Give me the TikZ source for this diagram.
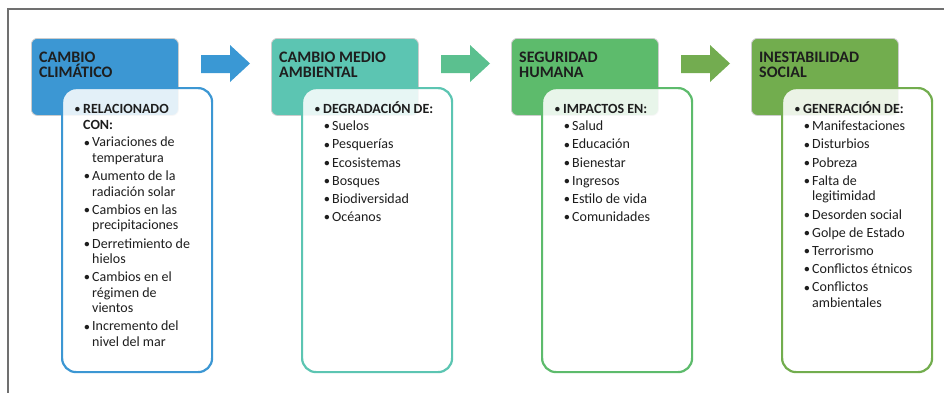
\documentclass[tikz,border=0pt]{standalone}
\usepackage{fontspec}
\setmainfont{Carlito}
\definecolor{txt}{HTML}{1E1E1E}
\definecolor{hA}{HTML}{3C97D3}
\definecolor{hB}{HTML}{5CC5B2}
\definecolor{hC}{HTML}{5DBB6C}
\definecolor{hD}{HTML}{72AD4E}
\definecolor{aA}{HTML}{3A98D4}
\definecolor{aB}{HTML}{5BC08F}
\definecolor{aC}{HTML}{73AC50}
\definecolor{frm}{HTML}{707070}
\tikzset{
  hdr/.style={rounded corners=6pt, draw=white!80!black, line width=0.8pt, minimum width=147pt, minimum height=77pt, anchor=north west, inner sep=0pt},
  bodybox/.style={rounded corners=14pt, fill=white, fill opacity=0.86, line width=2.2pt, minimum width=150pt, minimum height=284pt, anchor=north west, inner sep=0pt},
  ttl/.style={font=\fontsize{16}{16}\selectfont\bfseries, text=txt, inner sep=0pt, anchor=base west},
  btxt/.style={font=\fontsize{14}{16}\selectfont, text=txt, inner sep=0pt},
  bbold/.style={font=\fontsize{14}{16}\selectfont\bfseries, text=txt, inner sep=0pt},
  bul/.style={font=\fontsize{10.5}{10.5}\selectfont\bfseries, text=txt, inner sep=0pt, anchor=base},
  frame/.style={draw=frm, line width=1.2pt}
}
\newcommand\bodytext[4]{%
  \xdef\cy{113.3}%
  \node[bul] (#1hb) at ({#2+16.5},{\cy-0.8}) {•};
  \foreach \hdl [count=\hh] in {#3} {%
    \node[bbold,anchor=base west] (#1h\hh) at ({#2+22},\cy) {\hdl};
    \pgfmathsetmacro\tmp{\cy+16.2}\xdef\cy{\tmp}%
  }%
  \pgfmathsetmacro\tmp{\cy+17.4-16.2}\xdef\cy{\tmp}%
  \foreach \itm [count=\ii] in {#4} {%
    \node[bul] (#1b\ii) at ({#2+26},{\cy-0.8}) {•};
    \foreach \lin [count=\jj] in \itm {%
      \node[btxt,anchor=base west] (#1t\ii-\jj) at ({#2+31},\cy) {\lin};
      \pgfmathsetmacro\tmp{\cy+15.5}\xdef\cy{\tmp}%
    }%
    \pgfmathsetmacro\tmp{\cy+18.2-15.5}\xdef\cy{\tmp}%
  }%
}
\begin{document}
\begin{tikzpicture}[x=1pt,y=-1pt]
\useasboundingbox (0,0) rectangle (944,392);
\fill[white] (0,0) rectangle (944,392);
\draw[frame] (8,395) -- (8,9) -- (947,9);

% arrows
\foreach \k/\c in {0/aA,1/aB,2/aC}{
  \fill[\c] ({201+240*\k},55) -- ({230+240*\k},55) -- ({230+240*\k},45) -- ({250+240*\k},63.5)
     -- ({230+240*\k},82) -- ({230+240*\k},73) -- ({201+240*\k},73) -- cycle;
}

% header boxes
\node[hdr, fill=hA] (h1) at (31,38) {};
\node[hdr, fill=hB] (h2) at (271,38) {};
\node[hdr, fill=hC] (h3) at (511,38) {};
\node[hdr, fill=hD] (h4) at (751,38) {};

\node[ttl] (t1a) at (39,62) {CAMBIO};
\node[ttl] (t1b) at (39,77.5) {CLIMÁTICO};
\node[ttl] (t2a) at (279,62) {CAMBIO MEDIO};
\node[ttl] (t2b) at (279,77.5) {AMBIENTAL};
\node[ttl] (t3a) at (519,62) {SEGURIDAD};
\node[ttl] (t3b) at (519,77.5) {HUMANA};
\node[ttl] (t4a) at (759,62) {INESTABILIDAD};
\node[ttl] (t4b) at (759,77.5) {SOCIAL};

% body boxes
\node[bodybox, draw=hA] (b1) at (61,87) {};
\node[bodybox, draw=hB] (b2) at (301,87) {};
\node[bodybox, draw=hC] (b3) at (541,87) {};
\node[bodybox, draw=hD] (b4) at (781,87) {};

\bodytext{p}{61}{RELACIONADO,CON:}{{Variaciones de,temperatura},{Aumento de la,radiación solar},{Cambios en las,precipitaciones},{Derretimiento de,hielos},{Cambios en el,régimen de,vientos},{Incremento del,nivel del mar}}
\bodytext{q}{301}{DEGRADACIÓN DE:}{Suelos,Pesquerías,Ecosistemas,Bosques,Biodiversidad,Océanos}
\bodytext{r}{541}{IMPACTOS EN:}{Salud,Educación,Bienestar,Ingresos,Estilo de vida,Comunidades}
\bodytext{s}{781}{GENERACIÓN DE:}{Manifestaciones,Disturbios,Pobreza,{Falta de,legitimidad},Desorden social,Golpe de Estado,Terrorismo,Conflictos étnicos,{Conflictos,ambientales}}
\end{tikzpicture}
\end{document}
